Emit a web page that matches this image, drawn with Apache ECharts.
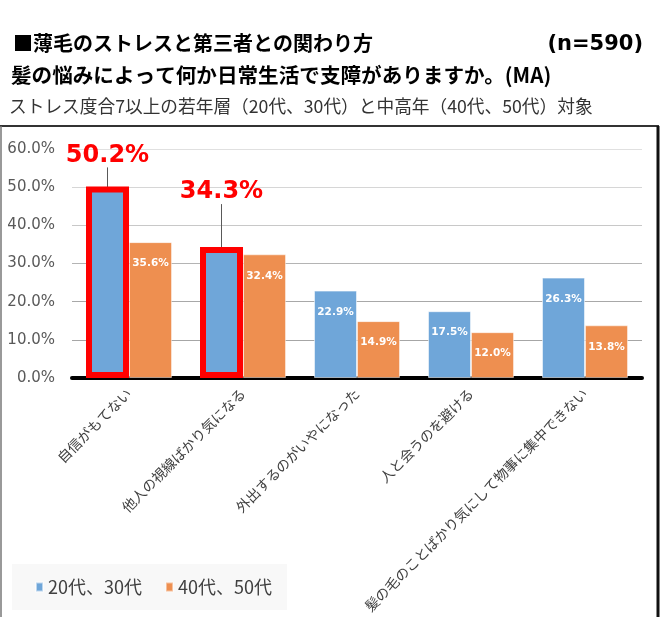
<!DOCTYPE html>
<html>
<head>
<meta charset="utf-8">
<script src="https://cdn.jsdelivr.net/npm/echarts@6/dist/echarts.min.js"></script>
<style>
  html, body { margin: 0; padding: 0; background: #fff; }
  #chart { width: 668px; height: 617px; }
</style>
</head>
<body>
<div id="chart"></div>
<script>
// カテゴリ（支障の内容）
const categories = [
  "自信がもてない",
  "他人の視線ばかり気になる",
  "外出するのがいやになった",
  "人と会うのを避ける",
  "髪の毛のことばかり気にして物事に集中できない",
];
const seriesNames = ["20代、30代", "40代、50代"];
// 若年層（20代、30代）
const youngValues = [50.2, 34.3, 22.9, 17.5, 26.3];
// 中高年（40代、50代）
const middleValues = [35.6, 32.4, 14.9, 12.0, 13.8];
// 赤枠で強調する項目
const highlighted = [0, 1];
// y軸
const yMin = 0;
const yMax = 60;
const yStep = 10;

const jpFont = "Noto Sans CJK JP";
const numFont = "DejaVu Sans";

const chart = echarts.init(document.getElementById("chart"));

// 強調する棒だけ赤枠＋大きなラベル
const youngData = youngValues.map((v, i) => {
  if (highlighted.indexOf(i) < 0) return v;
  return {
    value: v,
    itemStyle: { borderColor: "#ff0000", borderWidth: 6 },
    label: {
      position: "top",
      distance: 0,
      color: "#ff0000",
      fontSize: 24,
      fontWeight: "bold",
      fontFamily: numFont,
    },
    labelLine: { show: true, lineStyle: { color: "#595959", width: 1 } },
  };
});

const insideLabel = {
  show: true,
  position: "insideTop",
  distance: 16,
  color: "#fff",
  fontSize: 10.5,
  fontWeight: "bold",
  fontFamily: numFont,
  formatter: (p) => p.value.toFixed(1) + "%",
};

const option = {
  animation: false,
  color: ["#6fa6d9", "#ee8f50"],
  title: [
    {
      text: "■薄毛のストレスと第三者との関わり方",
      left: 13, top: 33, padding: 0,
      textStyle: { fontSize: 20, fontWeight: "bold", color: "#000", fontFamily: jpFont },
    },
    {
      text: "(n=590)",
      right: 25, top: 34, padding: 0,
      textStyle: { fontSize: 21, fontWeight: "bold", color: "#000", fontFamily: numFont },
    },
    {
      text: "髪の悩みによって何か日常生活で支障がありますか。(MA)",
      left: 11, top: 65, padding: 0,
      textStyle: { fontSize: 20.6, fontWeight: "bold", color: "#000", fontFamily: jpFont },
    },
    {
      text: "ストレス度合7以上の若年層（20代、30代）と中高年（40代、50代）対象",
      left: 9, top: 97, padding: 0,
      textStyle: { fontSize: 17.7, fontWeight: "normal", color: "#333", fontFamily: jpFont },
    },
  ],
  // 外枠
  graphic: [
    { type: "line", shape: { x1: 0, y1: 126, x2: 659, y2: 126 }, style: { stroke: "#333", lineWidth: 2 } },
    { type: "line", shape: { x1: 658, y1: 126, x2: 658, y2: 617 }, style: { stroke: "#111", lineWidth: 3 } },
    { type: "line", shape: { x1: 1, y1: 126, x2: 1, y2: 617 }, style: { stroke: "#777", lineWidth: 1.5 } },
  ],
  legend: {
    data: seriesNames,
    left: 12,
    top: 564,
    orient: "horizontal",
    backgroundColor: "#f8f8f8",
    padding: [14, 15, 14, 23],
    itemGap: 23,
    itemWidth: 7,
    itemHeight: 9,
    icon: "rect",
    textStyle: { fontSize: 18, color: "#404040", fontFamily: jpFont },
  },
  grid: { left: 72, right: 26, top: 149, bottom: 239 },
  xAxis: {
    type: "category",
    data: categories,
    axisLine: { lineStyle: { color: "#000", width: 4 } },
    axisTick: { show: false },
    axisLabel: {
      interval: 0,
      rotate: 45,
      margin: 13,
      fontSize: 14,
      color: "#404040",
      fontFamily: jpFont,
    },
  },
  yAxis: {
    type: "value",
    min: yMin,
    max: yMax,
    interval: yStep,
    axisLine: { show: false },
    axisTick: { show: false },
    axisLabel: {
      margin: 17,
      fontSize: 15,
      color: "#595959",
      fontFamily: numFont,
      formatter: (v) => v.toFixed(1) + "%",
    },
    splitLine: {
      lineStyle: {
        color: ["#999", "#a6a6a6", "#a8a8a8", "#b4b4b4", "#c8c8c8", "#d6d6d6", "#e0e0e0"],
        width: 1,
      },
    },
  },
  series: [
    {
      name: seriesNames[0],
      type: "bar",
      data: youngData,
      barWidth: 43,
      barGap: "0%",
      itemStyle: { borderColor: "rgba(255,255,255,0.55)", borderWidth: 1 },
      label: insideLabel,
      labelLayout: (params) => {
        if (params.dataIndex === 0) return { dy: -19 };
        if (params.dataIndex === 1) return { dy: -43 };
        return {};
      },
      z: 3,
    },
    {
      name: seriesNames[1],
      type: "bar",
      data: middleValues,
      barWidth: 43,
      itemStyle: { borderColor: "rgba(255,255,255,0.45)", borderWidth: 1 },
      label: insideLabel,
      z: 2,
    },
  ],
};

chart.setOption(option);
</script>
</body>
</html>
